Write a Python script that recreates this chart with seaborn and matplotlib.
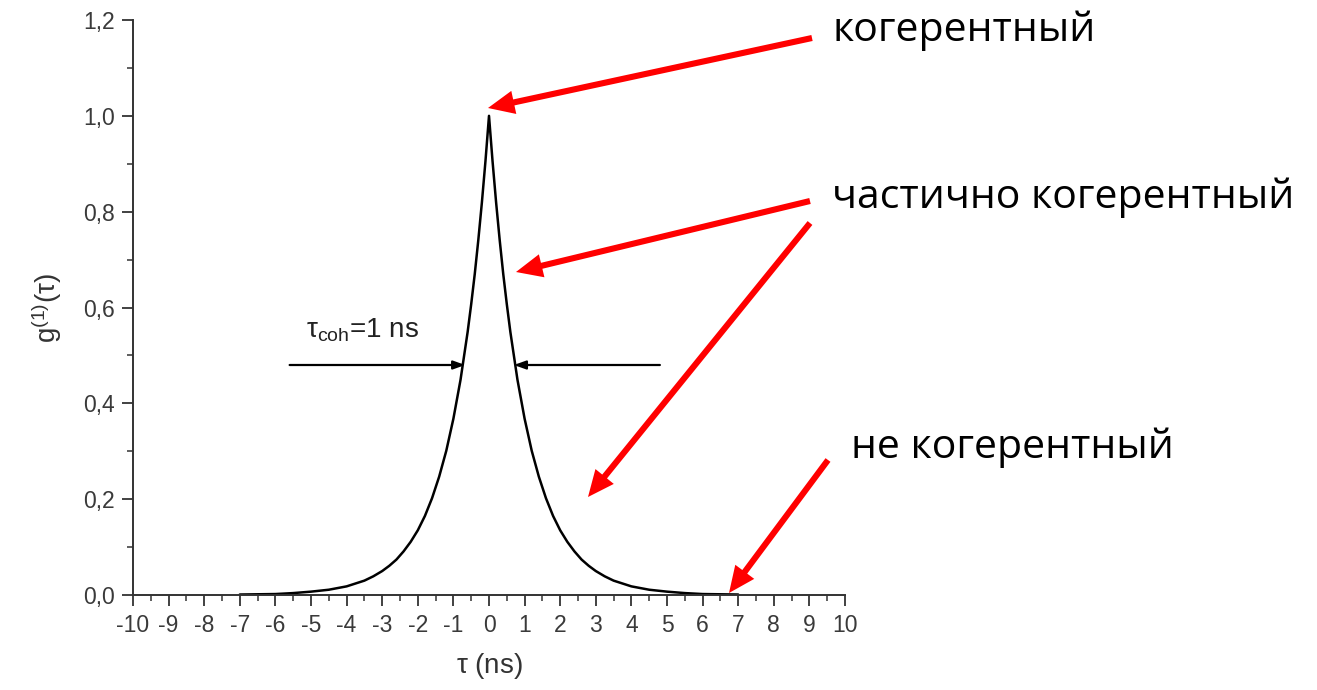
import matplotlib
matplotlib.use("Agg")
import matplotlib.pyplot as plt
from matplotlib.ticker import MultipleLocator, FuncFormatter
import numpy as np
import pandas as pd
import seaborn as sns

# First-order coherence function g1(tau), tau_coh = 1 ns (right half, symmetric in tau)
tau_pos = [0.0, 0.1, 0.2, 0.3, 0.4, 0.5, 0.6, 0.8, 1.0, 1.2, 1.4, 1.6, 1.8, 2.0,
           2.2, 2.4, 2.6, 2.8, 3.0, 3.25, 3.5, 3.75, 4.0, 4.5, 5.0, 5.5, 6.0, 7.0]
g1_pos = [1.000, 0.905, 0.819, 0.741, 0.670, 0.607, 0.549, 0.449, 0.368, 0.301,
          0.247, 0.202, 0.165, 0.135, 0.111, 0.091, 0.074, 0.061, 0.050, 0.039,
          0.030, 0.024, 0.018, 0.011, 0.007, 0.004, 0.002, 0.001]

x_ticks = list(range(-10, 11))
y_ticks = [0.0, 0.2, 0.4, 0.6, 0.8, 1.0, 1.2]

label_coh = "когерентный"
label_partial = "частично когерентный"
label_incoh = "не когерентный"

tau = [-t for t in tau_pos[:0:-1]] + tau_pos
g1 = g1_pos[:0:-1] + g1_pos
df = pd.DataFrame({"tau": tau, "g1": g1})

sns.set_style("ticks")
plt.rcParams["font.family"] = ["Liberation Sans", "DejaVu Sans"]
plt.rcParams["mathtext.fontset"] = "custom"
plt.rcParams["mathtext.rm"] = "Liberation Sans"
plt.rcParams["mathtext.it"] = "Liberation Sans"
plt.rcParams["axes.unicode_minus"] = False

W, H = 1317, 690
fig = plt.figure(figsize=(W / 100, H / 100), dpi=100)
ax = fig.add_axes([133 / W, 1 - 595 / H, (845 - 133) / W, (595 - 20) / H])

sns.lineplot(data=df, x="tau", y="g1", ax=ax, color="black", linewidth=1.8,
             estimator=None, sort=False)

ax.set_xlim(-10, 10)
ax.set_ylim(0, 1.2)
ax.set_xticks(x_ticks)
ax.set_yticks(y_ticks)
ax.xaxis.set_minor_locator(MultipleLocator(0.5))
ax.yaxis.set_minor_locator(MultipleLocator(0.1))
ax.yaxis.set_major_formatter(FuncFormatter(lambda v, p: f"{v:.1f}".replace(".", ",")))
ax.tick_params(which="major", length=8, width=1.3, labelsize=16.5,
               labelcolor="#3a3a3a", color="#333333", pad=5)
ax.tick_params(axis="x", which="major", pad=6)
ax.tick_params(which="minor", length=4.5, width=1.1, color="#333333")
for s in ("top", "right"):
    ax.spines[s].set_visible(False)
for s in ("left", "bottom"):
    ax.spines[s].set_linewidth(1.4)
    ax.spines[s].set_color("#333333")

ax.set_xlabel(r"$\mathregular{\tau}$ (ns)", fontsize=20, color="#333333", labelpad=10)
ax.set_ylabel(r"$\mathregular{g^{(1)}(\tau)}$", fontsize=20, color="#333333", labelpad=14)

# Coherence-time markers
ax.annotate("", xy=(-0.67, 0.48), xytext=(-5.6, 0.48),
            arrowprops=dict(arrowstyle="-|>,head_length=0.5,head_width=0.18",
                            color="black", lw=1.6, shrinkA=0, shrinkB=0, mutation_scale=14))
ax.annotate("", xy=(0.70, 0.48), xytext=(4.8, 0.48),
            arrowprops=dict(arrowstyle="-|>,head_length=0.5,head_width=0.18",
                            color="black", lw=1.6, shrinkA=0, shrinkB=0, mutation_scale=14))
ax.text(-5.15, 0.553, r"$\mathregular{\tau_{coh}}$=1 ns", fontsize=20,
        color="#222222", ha="left", va="center")

# Red pointer arrows and labels (figure pixel coordinates, origin bottom-left)
red_style = "simple,head_length=0.95,head_width=0.85,tail_width=0.22"
arrows = [((812, 38), (488, 108)),
          ((810, 201), (516, 272)),
          ((810, 223), (588, 497)),
          ((828, 460), (729, 593))]
for (x0, y0), (x1, y1) in arrows:
    ax.annotate("", xy=(x1, H - y1), xycoords="figure pixels",
                xytext=(x0, H - y0), textcoords="figure pixels",
                arrowprops=dict(arrowstyle=red_style, color="#ff0000", lw=0,
                                shrinkA=0, shrinkB=0, mutation_scale=20),
                annotation_clip=False)

txt_kw = dict(fontsize=29.5, family=["Open Sans", "DejaVu Sans"], color="black",
              ha="left", va="baseline")
fig.text(832 / W, 1 - 41 / H, label_coh, **txt_kw)
fig.text(832 / W, 1 - 208 / H, label_partial, **txt_kw)
fig.text(851 / W, 1 - 458 / H, label_incoh, **txt_kw)

fig.savefig("out.png", dpi=100, facecolor="white")
